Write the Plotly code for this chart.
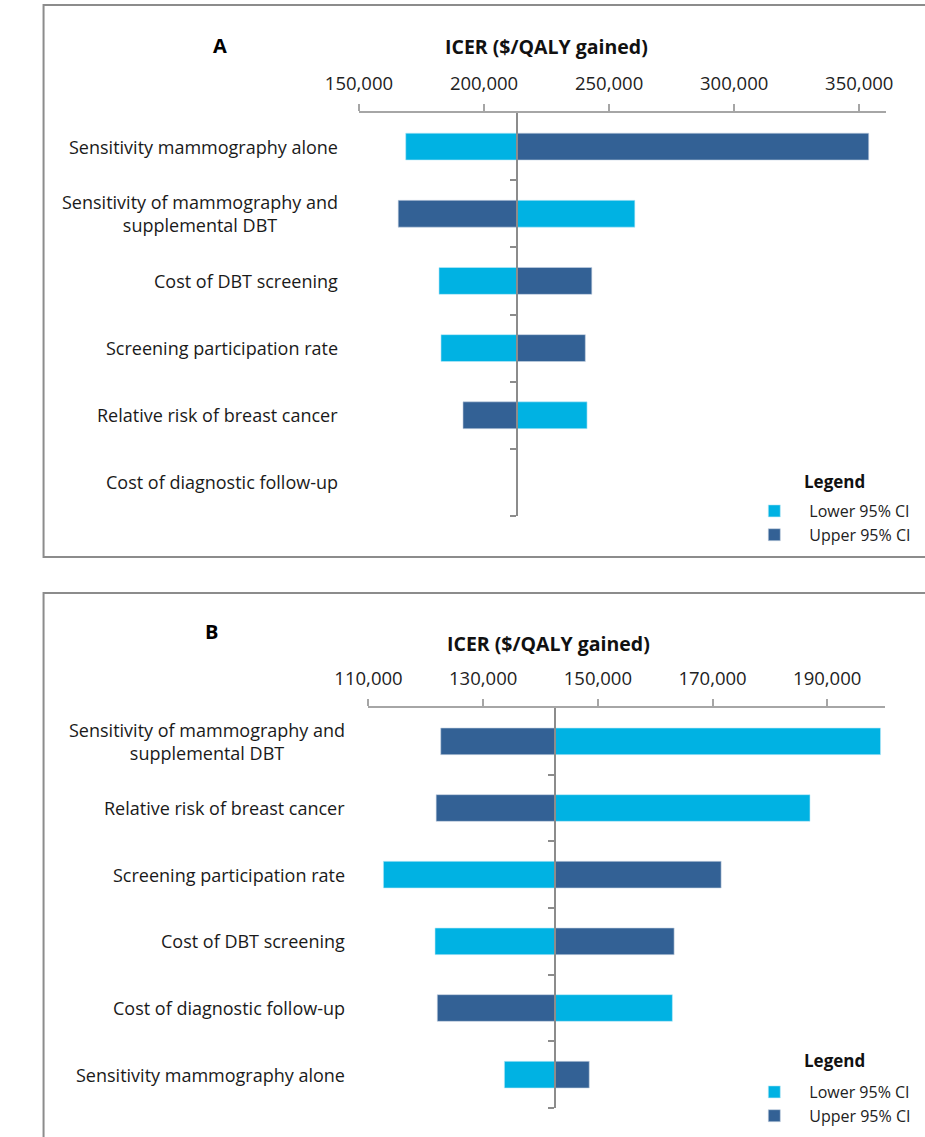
import plotly.graph_objects as go

W, H = 925, 1137

# ---------------- data ----------------
cats_A = ["Sensitivity mammography alone",
          "Sensitivity of mammography and<br>supplemental DBT",
          "Cost of DBT screening",
          "Screening participation rate",
          "Relative risk of breast cancer",
          "Cost of diagnostic follow-up"]
lower_A = [168700, 260300, 182000, 182800, 241200, 213000]
upper_A = [353800, 165700, 243100, 240500, 191600, 213000]
base_A = 213000
ticks_A = [150000, 200000, 250000, 300000, 350000]
range_A = [150000, 360500]

cats_B = ["Sensitivity of mammography and<br>supplemental DBT",
          "Relative risk of breast cancer",
          "Screening participation rate",
          "Cost of DBT screening",
          "Cost of diagnostic follow-up",
          "Sensitivity mammography alone"]
lower_B = [199300, 187000, 112600, 121600, 163000, 133700]
upper_B = [122600, 121800, 171500, 163300, 122000, 148500]
base_B = 142500
ticks_B = [110000, 130000, 150000, 170000, 190000]
range_B = [110000, 200000]

LIGHT = "#00B2E3"
DARK = "#336195"
FONT = "Open Sans"


def px(x):
    return x / W


def py(y):
    return 1 - y / H


fig = go.Figure()

panels = [
    dict(cats=cats_A, lo=lower_A, hi=upper_A, base=base_A, ticks=ticks_A, rng=range_A,
         xdom=(340, 891), ydom=(113, 516), xa="x", ya="y", leg="legend", lab_right=320),
    dict(cats=cats_B, lo=lower_B, hi=upper_B, base=base_B, ticks=ticks_B, rng=range_B,
         xdom=(350, 890), ydom=(708, 1108), xa="x2", ya="y2", leg="legend2", lab_right=328),
]

annotations = []
layout_axes = {}
for i, p in enumerate(panels):
    n = len(p["cats"])
    ys = list(range(n))
    fig.add_trace(go.Bar(
        y=ys, x=[v - p["base"] for v in p["lo"]], base=p["base"], orientation="h",
        width=0.4, marker=dict(color=LIGHT, line=dict(color="#BFE9F7", width=0.6)),
        name="Lower 95% CI", xaxis=p["xa"], yaxis=p["ya"], legend=p["leg"],
        hoverinfo="skip"))
    fig.add_trace(go.Bar(
        y=ys, x=[v - p["base"] for v in p["hi"]], base=p["base"], orientation="h",
        width=0.4, marker=dict(color=DARK, line=dict(color="#C8D3E2", width=0.6)),
        name="Upper 95% CI", xaxis=p["xa"], yaxis=p["ya"], legend=p["leg"],
        hoverinfo="skip"))

    x0, x1 = p["xdom"]
    y0, y1 = p["ydom"]
    xd = [px(x0), px(x1)]
    yd = [py(y1), py(y0)]
    frac = (p["base"] - p["rng"][0]) / (p["rng"][1] - p["rng"][0])
    pos = xd[0] + frac * (xd[1] - xd[0])
    xkey = "xaxis" if i == 0 else "xaxis2"
    ykey = "yaxis" if i == 0 else "yaxis2"
    layout_axes[xkey] = dict(
        domain=xd, range=p["rng"], side="top", anchor=p["ya"],
        tickvals=p["ticks"], tickformat=",d", ticks="outside", ticklen=7,
        tickwidth=1.5, tickcolor="#A6A6A6", showline=True, linecolor="#A6A6A6",
        linewidth=1.5, showgrid=False, zeroline=False, ticklabelstandoff=7,
        tickfont=dict(family=FONT, size=18.5, color="#222222"))
    layout_axes[ykey] = dict(
        domain=yd, range=[n - 0.5, -0.5], anchor="free", position=pos,
        tickvals=[k + 0.5 for k in range(n)], ticks="outside", ticklen=6,
        tickwidth=1.5, tickcolor="#8C8C8C", showticklabels=False,
        showline=True, linecolor="#8C8C8C", linewidth=2, showgrid=False,
        zeroline=False)
    for k, c in enumerate(p["cats"]):
        annotations.append(dict(
            x=px(p["lab_right"]), xref="paper", y=k, yref=p["ya"],
            xanchor="right", yanchor="middle", text=c, showarrow=False,
            align="center", font=dict(family=FONT, size=18, color="#1a1a1a")))

# panel letters, axis titles and legend headings
title_font = dict(family=FONT, size=19.5, color="#111")
leg_title_font = dict(family=FONT, size=17, color="#111")
annotations += [
    dict(x=px(195), y=py(45), xref="paper", yref="paper", text="<b>A</b>",
         xanchor="center", yanchor="middle", showarrow=False,
         font=dict(family=FONT, size=20, color="#000")),
    dict(x=px(536), y=py(46), xref="paper", yref="paper",
         text="<b>ICER ($/QALY gained)</b>", xanchor="center", yanchor="middle",
         showarrow=False, font=title_font),
    dict(x=px(186), y=py(631), xref="paper", yref="paper", text="<b>B</b>",
         xanchor="center", yanchor="middle", showarrow=False,
         font=dict(family=FONT, size=20, color="#000")),
    dict(x=px(538), y=py(643), xref="paper", yref="paper",
         text="<b>ICER ($/QALY gained)</b>", xanchor="center", yanchor="middle",
         showarrow=False, font=title_font),
    dict(x=px(838), y=py(481), xref="paper", yref="paper", text="<b>Legend</b>",
         xanchor="center", yanchor="middle", showarrow=False, font=leg_title_font),
    dict(x=px(838), y=py(1060), xref="paper", yref="paper", text="<b>Legend</b>",
         xanchor="center", yanchor="middle", showarrow=False, font=leg_title_font),
]

shapes = [
    dict(type="rect", xref="paper", yref="paper", x0=px(10), x1=1.02,
         y0=py(557), y1=py(5), line=dict(color="#8C8C8C", width=2),
         fillcolor="rgba(0,0,0,0)", layer="below"),
    dict(type="rect", xref="paper", yref="paper", x0=px(10), x1=1.02,
         y0=-0.02, y1=py(593), line=dict(color="#8C8C8C", width=2),
         fillcolor="rgba(0,0,0,0)", layer="below"),
]

leg_common = dict(
    xanchor="left", yanchor="top", bgcolor="rgba(0,0,0,0)",
    font=dict(family=FONT, size=16, color="#222"), tracegroupgap=0,
    itemwidth=60, itemclick=False, itemdoubleclick=False)

fig.update_layout(
    width=W, height=H, margin=dict(l=0, r=0, t=0, b=0),
    paper_bgcolor="white", plot_bgcolor="rgba(0,0,0,0)",
    barmode="overlay", showlegend=True,
    annotations=annotations, shapes=shapes,
    legend=dict(x=px(738), y=py(494), **leg_common),
    legend2=dict(x=px(738), y=py(1075), **leg_common),
    **layout_axes)

fig.write_html("out.html",
               config={"displayModeBar": False},
               post_script="document.body.style.margin='0';"
                           "document.body.style.overflow='hidden';")
